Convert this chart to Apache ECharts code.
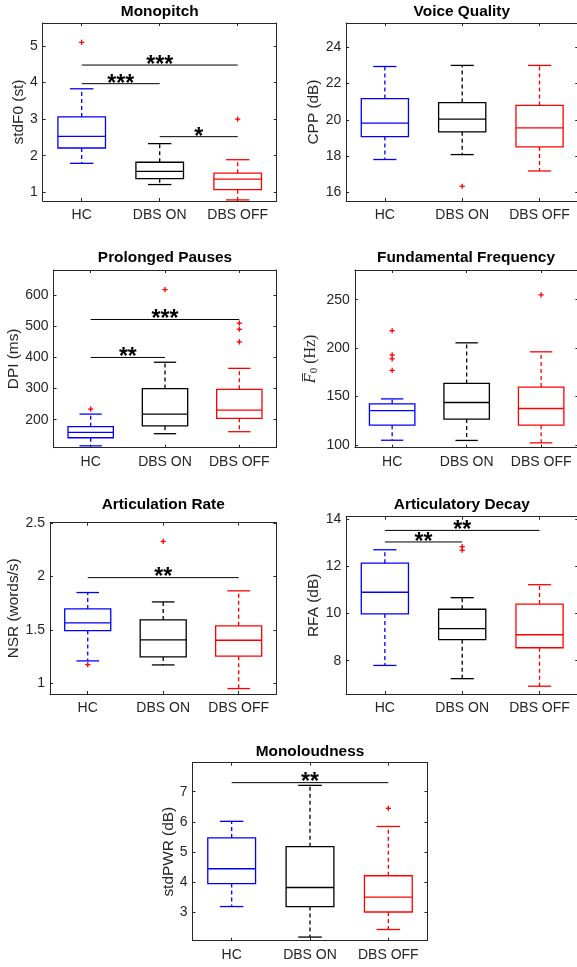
<!DOCTYPE html>
<html><head><meta charset="utf-8">
<script src="https://cdn.jsdelivr.net/npm/echarts@6/dist/echarts.min.js"></script>
<style>html,body{margin:0;padding:0;background:#fff;} #chart{width:577px;height:967px;}</style>
</head><body><div id="chart"></div><script>
// ---------- DATA ----------
const categories = ['HC', 'DBS ON', 'DBS OFF'];
// box stats per group: [lower whisker, Q1, median, Q3, upper whisker]
const monopitchBoxes = [[1.79, 2.21, 2.53, 3.06, 3.83], [1.21, 1.37, 1.57, 1.82, 2.33], [0.79, 1.07, 1.36, 1.52, 1.89]];
const monopitchOutliers = [[0, 5.1], [2, 3.0]];
const monopitchSig = [[0, 2, 4.48, '***'], [0, 1, 3.97, '***'], [1, 2, 2.52, '*']];
const monopitchTicks = [1, 2, 3, 4, 5];
const monopitchRange = [0.76, 5.63];

const voiceBoxes = [[17.82, 19.08, 19.82, 21.17, 22.93], [18.09, 19.34, 20.04, 20.95, 22.99], [17.19, 18.51, 19.56, 20.79, 22.99]];
const voiceOutliers = [[1, 16.35]];
const voiceSig = [];
const voiceTicks = [16, 18, 20, 22, 24];
const voiceRange = [15.54, 25.32];

const pausesBoxes = [[116, 142, 159.5, 177.5, 218], [155, 180, 218, 300, 384.6], [161.4, 204.5, 231, 297.7, 365]];
const pausesOutliers = [[0, 234], [1, 618], [2, 510], [2, 490.6], [2, 450]];
const pausesSig = [[0, 2, 522, '***'], [0, 1, 400, '**']];
const pausesTicks = [200, 300, 400, 500, 600];
const pausesRange = [110, 681];

const f0Boxes = [[104.9, 120.5, 135.5, 142.5, 147.6], [104.7, 126.8, 143.9, 163.6, 205.5], [102.2, 120.5, 137.7, 159.8, 196.2]];
const f0Outliers = [[0, 218], [0, 193], [0, 189], [0, 177], [2, 255]];
const f0Sig = [];
const f0Ticks = [100, 150, 200, 250];
const f0Range = [97.2, 280.7];

const rateBoxes = [[1.208, 1.493, 1.565, 1.696, 1.85], [1.17, 1.245, 1.405, 1.593, 1.762], [0.948, 1.252, 1.402, 1.537, 1.866]];
const rateOutliers = [[0, 1.173], [1, 2.33]];
const rateSig = [[0, 2, 1.99, '**']];
const rateTicks = [1, 1.5, 2, 2.5];
const rateRange = [0.897, 2.506];

const decayBoxes = [[7.8, 9.98, 10.9, 12.13, 12.7], [7.24, 8.89, 9.36, 10.18, 10.67], [6.92, 8.55, 9.1, 10.4, 11.22]];
const decayOutliers = [[1, 12.83], [1, 12.68]];
const decaySig = [[0, 2, 13.52, '**'], [0, 1, 13.03, '**']];
const decayTicks = [8, 10, 12, 14];
const decayRange = [6.59, 14.1];

const loudBoxes = [[3.2, 3.96, 4.45, 5.47, 6.02], [2.19, 3.2, 3.83, 5.18, 7.21], [2.44, 3.02, 3.51, 4.22, 5.85]];
const loudOutliers = [[2, 6.45]];
const loudSig = [[0, 2, 7.3, '**']];
const loudTicks = [3, 4, 5, 6, 7];
const loudRange = [2.07, 7.96];

// ---------- LAYOUT / STYLE ----------
const FONT = '"Liberation Sans", Arial, Helvetica, sans-serif';
const AXIS_COLOR = '#262626';
const groupColors = ['#0000ff', '#000000', '#ff0000'];

const panels = [
  {title: 'Monopitch', yName: 'stdF0 (st)', boxes: monopitchBoxes, outliers: monopitchOutliers, sig: monopitchSig, ticks: monopitchTicks, range: monopitchRange,
   grid: {left: 42.7, top: 23, width: 234, height: 178}, nameGap: 16, titleY: 11.7},
  {title: 'Voice Quality', yName: 'CPP (dB)', boxes: voiceBoxes, outliers: voiceOutliers, sig: voiceSig, ticks: voiceTicks, range: voiceRange,
   grid: {left: 346.2, top: 23, width: 232, height: 178}, nameGap: 24, titleY: 12, titleX: 461.8},
  {title: 'Prolonged Pauses', yName: 'DPI (ms)', boxes: pausesBoxes, outliers: pausesOutliers, sig: pausesSig, ticks: pausesTicks, range: pausesRange,
   grid: {left: 53.5, top: 270, width: 223, height: 177.7}, nameGap: 32, titleY: 258},
  {title: 'Fundamental Frequency', yName: '{f|F\u0305}{s|0}{n| (Hz)}', boxes: f0Boxes, outliers: f0Outliers, sig: f0Sig, ticks: f0Ticks, range: f0Range,
   grid: {left: 354.9, top: 270, width: 223.5, height: 177.7}, nameGap: 35, titleY: 258, titleX: 466, rich: true},
  {title: 'Articulation Rate', yName: 'NSR (words/s)', boxes: rateBoxes, outliers: rateOutliers, sig: rateSig, ticks: rateTicks, range: rateRange,
   grid: {left: 50, top: 522.7, width: 226.4, height: 171.3}, nameGap: 27, titleY: 504.3},
  {title: 'Articulatory Decay', yName: 'RFA (dB)', boxes: decayBoxes, outliers: decayOutliers, sig: decaySig, ticks: decayTicks, range: decayRange,
   grid: {left: 346.2, top: 516.7, width: 232, height: 177.3}, nameGap: 24, titleY: 504.3, titleX: 461.8},
  {title: 'Monoloudness', yName: 'stdPWR (dB)', boxes: loudBoxes, outliers: loudOutliers, sig: loudSig, ticks: loudTicks, range: loudRange,
   grid: {left: 192.5, top: 762.7, width: 235, height: 178}, nameGap: 16, titleY: 751.7}
];

function boxRender(params, api) {
  const idx = api.value(0);
  const band = api.size([1, 0])[0];
  const hw = band * 0.305, cw = band * 0.15;
  const pLo = api.coord([idx, api.value(1)]);
  const pQ1 = api.coord([idx, api.value(2)]);
  const pMed = api.coord([idx, api.value(3)]);
  const pQ3 = api.coord([idx, api.value(4)]);
  const pHi = api.coord([idx, api.value(5)]);
  const x = pLo[0];
  const color = groupColors[idx];
  const solid = {stroke: color, lineWidth: 1.3, fill: null};
  const dashed = {stroke: color, lineWidth: 1.3, lineDash: [4, 3], fill: null};
  return {type: 'group', children: [
    {type: 'line', shape: {x1: x, y1: pQ3[1], x2: x, y2: pHi[1]}, style: dashed},
    {type: 'line', shape: {x1: x, y1: pQ1[1], x2: x, y2: pLo[1]}, style: dashed},
    {type: 'line', shape: {x1: x - cw, y1: pHi[1], x2: x + cw, y2: pHi[1]}, style: solid},
    {type: 'line', shape: {x1: x - cw, y1: pLo[1], x2: x + cw, y2: pLo[1]}, style: solid},
    {type: 'rect', shape: {x: x - hw, y: pQ3[1], width: 2 * hw, height: pQ1[1] - pQ3[1]}, style: {stroke: color, lineWidth: 1.3, fill: 'rgba(0,0,0,0)'}},
    {type: 'line', shape: {x1: x - hw, y1: pMed[1], x2: x + hw, y2: pMed[1]}, style: solid}
  ]};
}

function plusRender(params, api) {
  const p = api.coord([api.value(0), api.value(1)]);
  const s = 2.6;
  const st = {stroke: '#ff0000', lineWidth: 1.3};
  return {type: 'group', children: [
    {type: 'line', shape: {x1: p[0] - s, y1: p[1], x2: p[0] + s, y2: p[1]}, style: st},
    {type: 'line', shape: {x1: p[0], y1: p[1] - s, x2: p[0], y2: p[1] + s}, style: st}
  ]};
}

function makeSigRender(sig) {
  return function (params, api) {
    const a = api.coord([api.value(0), api.value(2)]);
    const b = api.coord([api.value(1), api.value(2)]);
    const label = sig[params.dataIndex][3];
    return {type: 'group', children: [
      {type: 'line', shape: {x1: a[0], y1: a[1], x2: b[0], y2: b[1]}, style: {stroke: '#000', lineWidth: 1}},
      {type: 'text', x: (a[0] + b[0]) / 2, y: a[1] + 0.5, style: {text: label, fontSize: 23, fontWeight: 'bold', fontFamily: FONT, fill: '#000', align: 'center', verticalAlign: 'middle'}}
    ]};
  };
}

const grids = [], xAxes = [], yAxes = [], series = [], graphics = [];
panels.forEach((p, i) => {
  grids.push(Object.assign({outerBoundsMode: 'none', containLabel: false}, p.grid));
  const axisLine = {show: true, lineStyle: {color: AXIS_COLOR, width: 1}};
  const tick = {show: true, inside: true, length: 3, lineStyle: {color: AXIS_COLOR}};
  xAxes.push({type: 'category', gridIndex: i, data: categories, position: 'bottom', axisLine: axisLine,
    axisTick: Object.assign({alignWithLabel: true}, tick),
    axisLabel: {interval: 0, fontSize: 14, fontFamily: FONT, color: AXIS_COLOR, margin: 7}});
  xAxes.push({type: 'category', gridIndex: i, data: categories, position: 'top', axisLine: axisLine,
    axisTick: Object.assign({alignWithLabel: true}, tick), axisLabel: {show: false}});
  const nameStyle = {fontSize: 15.4, fontFamily: FONT, color: AXIS_COLOR};
  if (p.rich) {
    nameStyle.rich = {
      f: {fontFamily: '"Liberation Serif", serif', fontStyle: 'italic', fontSize: 16, color: AXIS_COLOR},
      s: {fontFamily: '"Liberation Serif", serif', fontSize: 11, color: AXIS_COLOR, padding: [7, 0, 0, 0]},
      n: {fontFamily: '"Liberation Serif", serif', fontSize: 16, color: AXIS_COLOR}
    };
  }
  yAxes.push({type: 'value', gridIndex: i, min: p.range[0], max: p.range[1], position: 'left',
    name: p.yName, nameLocation: 'middle', nameGap: p.nameGap, nameTextStyle: nameStyle,
    axisLine: axisLine, splitLine: {show: false},
    axisTick: Object.assign({customValues: p.ticks}, tick),
    axisLabel: {customValues: p.ticks, fontSize: 14, fontFamily: FONT, color: AXIS_COLOR, margin: 5}});
  yAxes.push({type: 'value', gridIndex: i, min: p.range[0], max: p.range[1], position: 'right',
    axisLine: axisLine, splitLine: {show: false},
    axisTick: Object.assign({customValues: p.ticks}, tick), axisLabel: {show: false}});
  const xi = i * 2, yi = i * 2;
  series.push({type: 'custom', xAxisIndex: xi, yAxisIndex: yi, renderItem: boxRender,
    data: p.boxes.map((b, k) => [k].concat(b)), encode: {x: 0, y: [1, 2, 3, 4, 5]}, clip: false, silent: true});
  series.push({type: 'custom', xAxisIndex: xi, yAxisIndex: yi, renderItem: plusRender,
    data: p.outliers, encode: {x: 0, y: 1}, clip: false, silent: true});
  if (p.sig.length) {
    series.push({type: 'custom', xAxisIndex: xi, yAxisIndex: yi, renderItem: makeSigRender(p.sig),
      data: p.sig.map(s => [s[0], s[1], s[2]]), encode: {x: [0, 1], y: 2}, clip: false, silent: true});
  }
  graphics.push({type: 'text', x: p.titleX || (p.grid.left + p.grid.width / 2), y: p.titleY,
    style: {text: p.title, align: 'center', verticalAlign: 'middle', fontSize: 15.4, fontWeight: 'bold', fontFamily: FONT, fill: '#000'}});
});

const chart = echarts.init(document.getElementById('chart'), null, {renderer: 'canvas'});
chart.setOption({
  animation: false,
  backgroundColor: '#ffffff',
  grid: grids, xAxis: xAxes, yAxis: yAxes, series: series, graphic: graphics
});
</script></body></html>
